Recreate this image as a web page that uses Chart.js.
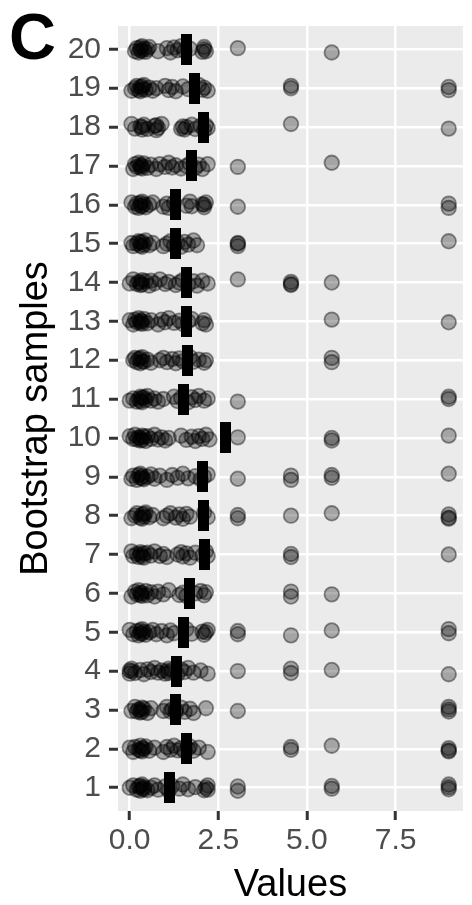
<!DOCTYPE html>
<html>
<head>
<meta charset="utf-8">
<script src="https://cdn.jsdelivr.net/npm/chart.js@4"></script>
<style>
  html, body { margin: 0; padding: 0; background: #fff; }
  #wrap { position: relative; width: 472px; height: 905px; }
</style>
</head>
<body>
<div id="wrap"><canvas id="chart" width="472" height="905"></canvas></div>
<script>
// Bootstrap samples (y categories) and x tick labels
const samples = [1, 2, 3, 4, 5, 6, 7, 8, 9, 10, 11, 12, 13, 14, 15, 16, 17, 18, 19, 20];
const xTicks = [0, 2.5, 5, 7.5];

// Black bar per sample
const means = [1.13, 1.59, 1.30, 1.31, 1.53, 1.70, 2.12, 2.07, 2.06, 2.71,
               1.52, 1.62, 1.59, 1.60, 1.29, 1.28, 1.73, 2.08, 1.82, 1.61];

// Values drawn in each bootstrap sample
const row01 = [0.0, 0.1, 0.2, 0.25, 0.3, 0.3, 0.35, 0.35, 0.4, 0.4, 0.5, 0.6, 0.7, 0.8, 1.0, 1.1, 1.2, 1.4, 1.5, 1.65, 1.85, 2.1, 2.15, 2.2, 2.2, 3.05, 3.05, 5.7, 5.7, 9.0, 9.0, 9.0];
const row02 = [0.0, 0.1, 0.15, 0.25, 0.3, 0.3, 0.35, 0.35, 0.4, 0.45, 0.55, 0.7, 0.95, 1.05, 1.15, 1.25, 1.35, 1.45, 1.55, 1.65, 1.7, 1.8, 1.95, 2.2, 4.55, 4.55, 5.7, 9.0, 9.0, 9.0];
const row03 = [0.05, 0.15, 0.2, 0.25, 0.3, 0.3, 0.35, 0.35, 0.4, 0.5, 0.6, 0.95, 1.05, 1.15, 1.2, 1.3, 1.3, 1.45, 1.55, 1.7, 1.8, 2.15, 3.05, 9.0, 9.0, 9.0];
const row04 = [0.0, 0.0, 0.05, 0.05, 0.15, 0.3, 0.4, 0.5, 0.6, 0.7, 0.8, 0.9, 1.0, 1.05, 1.1, 1.1, 1.2, 1.35, 1.45, 1.55, 1.65, 1.8, 2.0, 2.2, 3.05, 4.55, 4.55, 5.7, 9.0];
const row05 = [0.0, 0.1, 0.2, 0.25, 0.3, 0.3, 0.35, 0.35, 0.4, 0.45, 0.55, 0.65, 0.75, 0.9, 1.05, 1.15, 1.25, 1.6, 1.75, 2.05, 2.1, 2.15, 2.2, 3.05, 3.05, 4.55, 5.7, 9.0, 9.0];
const row06 = [0.05, 0.15, 0.2, 0.25, 0.3, 0.3, 0.35, 0.35, 0.45, 0.5, 0.6, 0.7, 0.8, 0.95, 1.1, 1.4, 1.5, 1.6, 1.85, 2.0, 2.1, 2.15, 4.55, 4.55, 5.7];
const row07 = [0.05, 0.1, 0.2, 0.25, 0.3, 0.3, 0.35, 0.4, 0.4, 0.5, 0.6, 0.7, 0.85, 0.95, 1.05, 1.35, 1.45, 1.5, 1.6, 1.7, 1.85, 2.05, 2.15, 2.2, 4.55, 4.55, 9.0];
const row08 = [0.05, 0.15, 0.2, 0.3, 0.35, 0.35, 0.4, 0.4, 0.45, 0.55, 0.65, 0.95, 1.05, 1.15, 1.3, 1.4, 1.5, 1.6, 1.7, 2.1, 2.2, 3.05, 3.05, 4.55, 5.7, 9.0, 9.0, 9.0];
const row09 = [0.05, 0.1, 0.2, 0.25, 0.3, 0.3, 0.35, 0.35, 0.4, 0.5, 0.6, 0.7, 0.85, 1.05, 1.2, 1.35, 1.5, 1.65, 1.85, 2.0, 2.1, 2.2, 3.05, 4.55, 4.55, 5.7, 5.7, 9.0];
const row10 = [0.0, 0.1, 0.15, 0.2, 0.25, 0.3, 0.3, 0.35, 0.35, 0.4, 0.45, 0.5, 0.6, 0.7, 0.8, 0.9, 1.0, 1.1, 1.45, 1.6, 1.75, 1.85, 1.95, 2.05, 2.15, 2.25, 3.05, 5.7, 5.7, 9.0];
const row11 = [0.0, 0.1, 0.2, 0.25, 0.3, 0.3, 0.35, 0.35, 0.4, 0.45, 0.5, 0.6, 0.7, 0.8, 0.95, 1.25, 1.35, 1.45, 1.65, 1.75, 1.85, 1.95, 2.1, 2.2, 3.05, 9.0, 9.0];
const row12 = [0.1, 0.15, 0.2, 0.25, 0.3, 0.3, 0.35, 0.35, 0.4, 0.5, 0.6, 0.85, 0.95, 1.05, 1.2, 1.3, 1.4, 1.5, 1.7, 1.8, 1.95, 2.1, 2.15, 5.7, 5.7];
const row13 = [0.0, 0.1, 0.15, 0.2, 0.25, 0.3, 0.3, 0.35, 0.35, 0.4, 0.5, 0.6, 0.8, 0.9, 1.0, 1.1, 1.25, 1.4, 1.5, 1.65, 1.75, 2.05, 2.1, 2.15, 5.7, 9.0];
const row14 = [0.0, 0.1, 0.2, 0.25, 0.3, 0.3, 0.35, 0.35, 0.45, 0.55, 0.6, 0.7, 0.85, 1.0, 1.1, 1.3, 1.4, 1.5, 1.65, 1.8, 1.9, 2.05, 2.2, 3.05, 4.55, 4.55, 4.55, 5.7];
const row15 = [0.05, 0.1, 0.2, 0.25, 0.3, 0.3, 0.35, 0.35, 0.4, 0.45, 0.55, 0.65, 0.95, 1.05, 1.15, 1.25, 1.35, 1.45, 1.55, 1.65, 1.8, 1.9, 3.05, 3.05, 3.05, 9.0];
const row16 = [0.05, 0.15, 0.2, 0.25, 0.3, 0.3, 0.35, 0.35, 0.4, 0.45, 0.55, 0.65, 0.95, 1.05, 1.1, 1.25, 1.6, 1.7, 1.75, 2.05, 2.1, 2.1, 2.15, 3.05, 9.0, 9.0];
const row17 = [0.1, 0.15, 0.2, 0.25, 0.3, 0.3, 0.35, 0.35, 0.4, 0.5, 0.6, 0.75, 0.85, 1.0, 1.1, 1.2, 1.3, 1.45, 1.6, 1.7, 1.85, 1.95, 2.05, 2.2, 3.05, 5.7];
const row18 = [0.05, 0.15, 0.3, 0.35, 0.35, 0.4, 0.5, 0.7, 0.75, 0.75, 0.8, 0.9, 1.45, 1.5, 1.55, 1.6, 1.75, 1.85, 2.0, 2.1, 2.15, 2.2, 4.55, 9.0];
const row19 = [0.05, 0.15, 0.2, 0.25, 0.3, 0.3, 0.35, 0.35, 0.4, 0.45, 0.55, 0.65, 0.75, 1.0, 1.1, 1.2, 1.3, 1.5, 1.65, 1.95, 2.05, 2.1, 2.2, 4.55, 4.55, 9.0, 9.0];
const row20 = [0.15, 0.2, 0.25, 0.3, 0.3, 0.35, 0.35, 0.4, 0.45, 0.5, 0.55, 0.8, 1.05, 1.15, 1.25, 1.35, 1.45, 1.55, 1.7, 2.05, 2.1, 2.1, 2.15, 3.05, 5.7];

const rows = [row01, row02, row03, row04, row05, row06, row07, row08, row09, row10,
              row11, row12, row13, row14, row15, row16, row17, row18, row19, row20];

// fixed vertical jitter pattern (category units), like geom_jitter height
const jitter = [0.0, 0.06, -0.05, 0.03, -0.08, 0.045, -0.025, 0.08, -0.04, 0.015, -0.065];

const points = [];
rows.forEach((vals, r) => {
    vals.forEach((v, i) => {
        points.push({ x: v, y: samples[r] + jitter[(i + r * 3) % jitter.length] });
    });
});
const meanPoints = samples.map((s, i) => ({ x: means[i], y: s }));

// black bar marker
const bar = document.createElement('canvas');
bar.width = 11;
bar.height = 31;
const bctx = bar.getContext('2d');
bctx.fillStyle = '#000';
bctx.fillRect(0, 0, 11, 31);

const FONT = "'Liberation Sans', Arial, Helvetica, sans-serif";

const panelBg = {
    id: 'panelBg',
    beforeDraw(chart) {
        const { ctx, chartArea: a } = chart;
        ctx.save();
        ctx.fillStyle = '#ebebeb';
        ctx.fillRect(a.left, a.top, a.right - a.left, a.bottom - a.top);
        ctx.restore();
    },
    afterDraw(chart) {
        const ctx = chart.ctx;
        ctx.save();
        ctx.fillStyle = '#000';
        ctx.font = 'bold 65px ' + FONT;
        ctx.textBaseline = 'alphabetic';
        ctx.fillText('C', 9, 59);
        ctx.restore();
    }
};

new Chart('chart', {
    type: 'scatter',
    plugins: [panelBg],
    data: {
        datasets: [
            {
                data: points,
                pointRadius: 7.3,
                backgroundColor: 'rgba(0, 0, 0, 0.3)',
                borderColor: 'rgba(0, 0, 0, 0.42)',
                borderWidth: 1.8,
            },
            {
                data: meanPoints,
                pointStyle: bar,
                pointRadius: 6,
            },
        ],
    },
    options: {
        responsive: false,
        devicePixelRatio: 1,
        animation: false,
        events: [],
        layout: { padding: { top: 25, right: 0, bottom: 0, left: 0 } },
        plugins: { legend: { display: false }, tooltip: { enabled: false } },
        scales: {
            x: {
                type: 'linear',
                min: -0.33,
                max: 9.4,
                afterBuildTicks: (scale) => { scale.ticks = xTicks.map((v) => ({ value: v })); },
                afterFit: (scale) => { scale.height = 94; },
                border: { display: false },
                grid: { color: '#ffffff', lineWidth: 2.5, tickColor: '#333333', tickWidth: 3, tickLength: 9 },
                ticks: {
                    padding: 3,
                    color: '#4d4d4d',
                    font: { family: FONT, size: 30 },
                    maxRotation: 0,
                    callback: (v) => Number(v).toFixed(1),
                },
                title: {
                    display: true,
                    text: 'Values',
                    color: '#000',
                    font: { family: FONT, size: 38, lineHeight: 1 },
                    padding: { top: 0, bottom: 0 },
                },
            },
            y: {
                type: 'linear',
                min: 0.4,
                max: 20.6,
                afterBuildTicks: (scale) => { scale.ticks = samples.map((v) => ({ value: v })); },
                afterFit: (scale) => { scale.width = 118; },
                border: { display: false },
                grid: { color: '#ffffff', lineWidth: 2.5, tickColor: '#333333', tickWidth: 3, tickLength: 9 },
                ticks: {
                    padding: 8,
                    color: '#4d4d4d',
                    font: { family: FONT, size: 30 },
                    callback: (v) => String(v),
                },
                title: {
                    display: true,
                    text: 'Bootstrap samples',
                    color: '#000',
                    font: { family: FONT, size: 38, lineHeight: 1 },
                    padding: { top: 18, bottom: 0 },
                },
            },
        },
    },
});
</script>
</body>
</html>
